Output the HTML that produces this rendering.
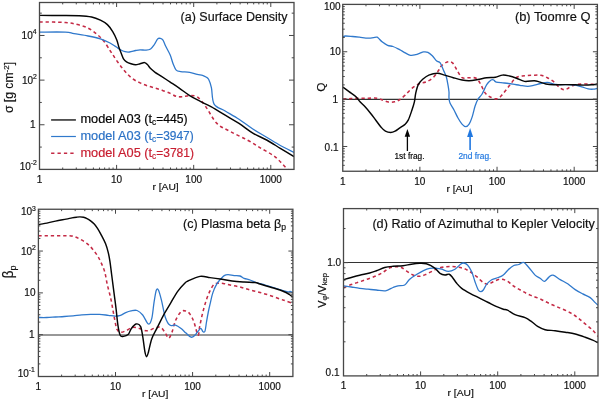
<!DOCTYPE html>
<html><head><meta charset="utf-8"><style>
html,body{margin:0;padding:0;background:#fff;}
svg{display:block;will-change:transform;}
text{font-family:"Liberation Sans", sans-serif;stroke-width:0.18px;}
</style></head><body>
<svg width="600" height="399" viewBox="0 0 600 399" fill="#111">
<rect width="600" height="399" fill="#fff"/>
<defs>
<clipPath id="cla"><rect x="39.5" y="2.5" width="254.50" height="166.90"/></clipPath>
<clipPath id="clb"><rect x="342.75" y="4.4" width="254.65" height="166.85"/></clipPath>
<clipPath id="clc"><rect x="38.4" y="209.25" width="254.50" height="167.25"/></clipPath>
<clipPath id="cld"><rect x="343.5" y="208.6" width="254.50" height="167.30"/></clipPath>
</defs>
<line x1="342.75" y1="99.4" x2="597.4" y2="99.4" stroke="#333" stroke-width="1.1"/>
<line x1="38.4" y1="335.0" x2="292.9" y2="335.0" stroke="#333" stroke-width="1.1"/>
<line x1="343.5" y1="262.5" x2="598" y2="262.5" stroke="#333" stroke-width="1.1"/>
<path d="M39.50,21.90 C43.80,22.00 58.95,22.05 65.30,22.50 C71.65,22.95 73.80,23.67 77.60,24.60 C81.40,25.53 84.88,26.50 88.10,28.10 C91.32,29.70 94.27,32.02 96.90,34.20 C99.53,36.38 101.72,38.48 103.90,41.20 C106.08,43.92 108.48,48.20 110.00,50.50 C111.52,52.80 111.75,53.12 113.00,55.00 C114.25,56.88 116.00,59.67 117.50,61.80 C119.00,63.93 120.50,65.92 122.00,67.80 C123.50,69.68 124.73,71.27 126.50,73.10 C128.27,74.93 130.33,77.17 132.60,78.80 C134.87,80.43 137.60,81.72 140.10,82.90 C142.60,84.08 145.10,85.03 147.60,85.90 C150.10,86.77 152.60,87.35 155.10,88.10 C157.60,88.85 160.08,89.52 162.60,90.40 C165.12,91.28 167.93,92.40 170.20,93.40 C172.47,94.40 174.20,95.83 176.20,96.40 C178.20,96.97 179.95,96.93 182.20,96.80 C184.45,96.67 187.13,95.53 189.70,95.60 C192.27,95.67 194.90,95.32 197.60,97.20 C200.30,99.08 202.68,102.53 205.90,106.90 C209.12,111.27 212.77,119.27 216.90,123.40 C221.03,127.53 225.65,128.93 230.70,131.70 C235.75,134.47 242.15,137.23 247.20,140.00 C252.25,142.77 256.40,145.53 261.00,148.30 C265.60,151.07 270.65,153.38 274.80,156.60 C278.95,159.82 283.37,165.20 285.90,167.60 C288.43,170.00 289.32,170.43 290.00,171.00" fill="none" stroke="#c42a45" stroke-width="1.55" stroke-dasharray="3.3,2.9" stroke-linejoin="round" clip-path="url(#cla)"/>
<path d="M39.50,32.10 C43.80,32.10 59.53,31.83 65.30,32.10 C71.07,32.37 70.30,33.05 74.10,33.70 C77.90,34.35 83.72,35.13 88.10,36.00 C92.48,36.87 96.75,37.73 100.40,38.90 C104.05,40.07 107.40,41.68 110.00,43.00 C112.60,44.32 114.25,45.67 116.00,46.80 C117.75,47.93 119.00,48.98 120.50,49.80 C122.00,50.62 123.50,51.33 125.00,51.70 C126.50,52.07 127.73,52.20 129.50,52.00 C131.27,51.80 133.83,50.87 135.60,50.50 C137.37,50.13 138.35,49.85 140.10,49.80 C141.85,49.75 144.35,50.33 146.10,50.20 C147.85,50.07 149.22,49.95 150.60,49.00 C151.98,48.05 153.22,46.18 154.40,44.50 C155.58,42.82 156.70,39.92 157.70,38.90 C158.70,37.88 159.52,38.18 160.40,38.40 C161.28,38.62 162.13,38.93 163.00,40.20 C163.87,41.47 164.40,43.53 165.60,46.00 C166.80,48.47 168.93,51.98 170.20,55.00 C171.47,58.02 172.20,61.58 173.20,64.10 C174.20,66.62 174.95,68.85 176.20,70.10 C177.45,71.35 178.45,71.23 180.70,71.60 C182.95,71.97 186.95,71.83 189.70,72.30 C192.45,72.77 195.07,73.90 197.20,74.40 C199.33,74.90 201.03,74.87 202.50,75.30 C203.97,75.73 204.98,76.33 206.00,77.00 C207.02,77.67 207.70,77.53 208.60,79.30 C209.50,81.07 210.48,83.47 211.40,87.60 C212.32,91.73 211.80,100.20 214.10,104.10 C216.40,108.00 221.05,108.47 225.20,111.00 C229.35,113.53 234.40,116.30 239.00,119.30 C243.60,122.30 248.20,126.02 252.80,129.00 C257.40,131.98 262.02,134.45 266.60,137.20 C271.18,139.95 275.73,142.97 280.30,145.50 C284.87,148.03 291.72,151.25 294.00,152.40" fill="none" stroke="#3079cc" stroke-width="1.3" stroke-linejoin="round" clip-path="url(#cla)"/>
<path d="M39.50,15.40 C42.92,15.42 53.35,15.45 60.00,15.50 C66.65,15.55 74.13,15.45 79.40,15.70 C84.67,15.95 88.10,16.25 91.60,17.00 C95.10,17.75 97.77,18.93 100.40,20.20 C103.03,21.47 105.35,22.70 107.40,24.60 C109.45,26.50 111.13,29.03 112.70,31.60 C114.27,34.17 115.75,37.35 116.80,40.00 C117.85,42.65 118.25,45.25 119.00,47.50 C119.75,49.75 120.55,51.62 121.30,53.50 C122.05,55.38 122.63,57.42 123.50,58.80 C124.37,60.18 125.25,60.97 126.50,61.80 C127.75,62.63 129.48,63.30 131.00,63.80 C132.52,64.30 134.08,64.80 135.60,64.80 C137.12,64.80 138.60,64.17 140.10,63.80 C141.60,63.43 143.35,62.43 144.60,62.60 C145.85,62.77 146.60,63.80 147.60,64.80 C148.60,65.80 149.35,67.35 150.60,68.60 C151.85,69.85 153.35,71.05 155.10,72.30 C156.85,73.55 158.58,74.47 161.10,76.10 C163.62,77.73 167.18,80.10 170.20,82.10 C173.22,84.10 175.95,85.85 179.20,88.10 C182.45,90.35 186.18,93.38 189.70,95.60 C193.22,97.82 196.68,99.52 200.30,101.40 C203.92,103.28 207.25,104.60 211.40,106.90 C215.55,109.20 220.60,112.45 225.20,115.20 C229.80,117.95 234.40,120.42 239.00,123.40 C243.60,126.38 248.20,130.33 252.80,133.10 C257.40,135.87 262.02,137.47 266.60,140.00 C271.18,142.53 275.73,145.53 280.30,148.30 C284.87,151.07 291.72,155.22 294.00,156.60" fill="none" stroke="#050505" stroke-width="1.45" stroke-linejoin="round" clip-path="url(#cla)"/>
<path d="M342.90,99.00 C344.22,98.93 348.03,98.73 350.80,98.60 C353.57,98.47 356.58,98.27 359.50,98.20 C362.42,98.13 365.37,98.20 368.30,98.20 C371.23,98.20 374.75,97.90 377.10,98.20 C379.45,98.50 380.50,99.35 382.40,100.00 C384.30,100.65 386.47,101.80 388.50,102.10 C390.53,102.40 392.70,102.23 394.60,101.80 C396.50,101.37 398.13,100.62 399.90,99.50 C401.67,98.38 403.15,97.00 405.20,95.10 C407.25,93.20 409.87,90.00 412.20,88.10 C414.53,86.20 416.87,84.73 419.20,83.70 C421.53,82.67 423.87,82.93 426.20,81.90 C428.53,80.87 431.15,79.40 433.20,77.50 C435.25,75.60 437.20,72.37 438.50,70.50 C439.80,68.63 439.55,67.73 441.00,66.30 C442.45,64.87 445.28,62.48 447.20,61.90 C449.12,61.32 450.90,61.48 452.50,62.80 C454.10,64.12 455.20,67.32 456.80,69.80 C458.40,72.28 460.05,76.38 462.10,77.70 C464.15,79.02 466.77,77.62 469.10,77.70 C471.43,77.78 474.20,77.17 476.10,78.20 C478.00,79.23 479.03,81.50 480.50,83.90 C481.97,86.30 483.28,90.42 484.90,92.60 C486.52,94.78 488.15,95.97 490.20,97.00 C492.25,98.03 495.15,99.23 497.20,98.80 C499.25,98.37 500.45,96.60 502.50,94.40 C504.55,92.20 507.20,88.42 509.50,85.60 C511.80,82.78 513.80,79.13 516.30,77.50 C518.80,75.87 521.77,76.17 524.50,75.80 C527.23,75.43 529.98,75.38 532.70,75.30 C535.42,75.22 538.35,74.88 540.80,75.30 C543.25,75.72 545.22,76.70 547.40,77.80 C549.58,78.90 552.00,80.40 553.90,81.90 C555.80,83.40 557.30,85.53 558.80,86.80 C560.30,88.07 561.53,89.15 562.90,89.50 C564.27,89.85 565.50,89.50 567.00,88.90 C568.50,88.30 570.00,86.67 571.90,85.90 C573.80,85.13 575.95,84.62 578.40,84.30 C580.85,83.98 584.15,84.00 586.60,84.00 C589.05,84.00 591.30,84.30 593.10,84.30 C594.90,84.30 596.68,84.05 597.40,84.00" fill="none" stroke="#c42a45" stroke-width="1.55" stroke-dasharray="3.3,2.9" stroke-linejoin="round" clip-path="url(#clb)"/>
<path d="M342.90,36.80 C343.33,36.67 343.90,36.05 345.50,36.00 C347.10,35.95 350.17,36.30 352.50,36.50 C354.83,36.70 356.87,36.92 359.50,37.20 C362.13,37.48 365.52,38.20 368.30,38.20 C371.08,38.20 374.58,37.28 376.20,37.20 C377.82,37.12 376.97,36.88 378.00,37.70 C379.03,38.52 380.80,40.83 382.40,42.10 C384.00,43.37 385.85,44.57 387.60,45.30 C389.35,46.03 391.15,45.92 392.90,46.50 C394.65,47.08 396.35,47.92 398.10,48.80 C399.85,49.68 401.35,50.72 403.40,51.80 C405.45,52.88 408.35,54.82 410.40,55.30 C412.45,55.78 414.10,55.05 415.70,54.70 C417.30,54.35 418.70,53.67 420.00,53.20 C421.30,52.73 422.18,52.05 423.50,51.90 C424.82,51.75 426.43,51.65 427.90,52.30 C429.37,52.95 430.83,54.33 432.30,55.80 C433.77,57.27 435.38,59.93 436.70,61.10 C438.02,62.27 439.03,61.20 440.20,62.80 C441.37,64.40 442.68,68.37 443.70,70.70 C444.72,73.03 445.57,74.32 446.30,76.80 C447.03,79.28 447.65,83.07 448.10,85.60 C448.55,88.13 448.85,89.93 449.00,92.00 C449.15,94.07 448.83,96.17 449.00,98.00 C449.17,99.83 449.17,101.00 450.00,103.00 C450.83,105.00 452.67,107.50 454.00,110.00 C455.33,112.50 456.67,115.65 458.00,118.00 C459.33,120.35 460.72,122.65 462.00,124.10 C463.28,125.55 464.52,126.70 465.70,126.70 C466.88,126.70 468.03,125.70 469.10,124.10 C470.17,122.50 471.10,120.12 472.10,117.10 C473.10,114.08 474.10,109.02 475.10,106.00 C476.10,102.98 476.93,101.00 478.10,99.00 C479.27,97.00 480.67,96.38 482.10,94.00 C483.53,91.62 485.20,87.03 486.70,84.70 C488.20,82.37 489.93,80.78 491.10,80.00 C492.27,79.22 492.83,79.65 493.70,80.00 C494.57,80.35 494.55,81.60 496.30,82.10 C498.05,82.60 501.42,82.65 504.20,83.00 C506.98,83.35 510.37,83.82 513.00,84.20 C515.63,84.58 517.53,84.95 520.00,85.30 C522.47,85.65 525.42,86.33 527.80,86.30 C530.18,86.27 532.13,85.57 534.30,85.10 C536.47,84.63 538.62,83.95 540.80,83.50 C542.98,83.05 544.93,82.27 547.40,82.40 C549.87,82.53 552.60,83.93 555.60,84.30 C558.60,84.67 562.13,84.47 565.40,84.60 C568.67,84.73 572.48,84.73 575.20,85.10 C577.92,85.47 579.53,86.17 581.70,86.80 C583.87,87.43 586.30,88.50 588.20,88.90 C590.10,89.30 591.57,89.28 593.10,89.20 C594.63,89.12 596.68,88.53 597.40,88.40" fill="none" stroke="#3079cc" stroke-width="1.3" stroke-linejoin="round" clip-path="url(#clb)"/>
<path d="M342.90,87.20 C343.92,87.93 346.82,90.00 349.00,91.60 C351.18,93.20 354.17,95.10 356.00,96.80 C357.83,98.50 358.45,100.10 360.00,101.80 C361.55,103.50 363.55,105.10 365.30,107.00 C367.05,108.90 368.75,111.00 370.50,113.20 C372.25,115.40 374.03,117.87 375.80,120.20 C377.57,122.53 379.50,125.37 381.10,127.20 C382.70,129.03 383.80,130.32 385.40,131.20 C387.00,132.08 389.08,132.50 390.70,132.50 C392.32,132.50 393.63,131.93 395.10,131.20 C396.57,130.47 397.90,129.20 399.50,128.10 C401.10,127.00 403.25,125.92 404.70,124.60 C406.15,123.28 407.02,122.55 408.20,120.20 C409.38,117.85 410.77,113.57 411.80,110.50 C412.83,107.43 413.75,104.67 414.40,101.80 C415.05,98.93 415.05,96.17 415.70,93.30 C416.35,90.43 417.13,86.93 418.30,84.60 C419.47,82.27 420.95,80.88 422.70,79.30 C424.45,77.72 426.33,76.10 428.80,75.10 C431.27,74.10 434.87,73.30 437.50,73.30 C440.13,73.30 441.97,74.37 444.60,75.10 C447.23,75.83 450.38,76.88 453.30,77.70 C456.22,78.52 459.47,79.50 462.10,80.00 C464.73,80.50 466.47,80.78 469.10,80.70 C471.73,80.62 474.97,80.00 477.90,79.50 C480.83,79.00 483.78,78.08 486.70,77.70 C489.62,77.32 492.77,77.63 495.40,77.20 C498.03,76.77 500.15,75.30 502.50,75.10 C504.85,74.90 507.17,75.48 509.50,76.00 C511.83,76.52 514.00,77.30 516.50,78.20 C519.00,79.10 521.53,80.98 524.50,81.40 C527.47,81.82 531.85,80.62 534.30,80.70 C536.75,80.78 537.28,81.35 539.20,81.90 C541.12,82.45 543.35,83.52 545.80,84.00 C548.25,84.48 550.63,84.70 553.90,84.80 C557.17,84.90 561.85,84.60 565.40,84.60 C568.95,84.60 571.93,84.72 575.20,84.80 C578.47,84.88 582.28,85.10 585.00,85.10 C587.72,85.10 589.43,84.98 591.50,84.80 C593.57,84.62 596.42,84.13 597.40,84.00" fill="none" stroke="#050505" stroke-width="1.45" stroke-linejoin="round" clip-path="url(#clb)"/>
<path d="M38.40,235.70 C39.80,235.70 43.95,235.70 46.80,235.70 C49.65,235.70 52.58,235.70 55.50,235.70 C58.42,235.70 61.37,235.62 64.30,235.70 C67.23,235.78 70.47,235.62 73.10,236.20 C75.73,236.78 77.77,237.97 80.10,239.20 C82.43,240.43 85.05,241.98 87.10,243.60 C89.15,245.22 90.65,246.85 92.40,248.90 C94.15,250.95 96.13,253.57 97.60,255.90 C99.07,258.23 100.02,260.27 101.20,262.90 C102.38,265.53 103.68,268.08 104.70,271.70 C105.72,275.32 106.28,280.12 107.30,284.60 C108.32,289.08 109.78,293.93 110.80,298.60 C111.82,303.27 112.52,307.92 113.40,312.60 C114.28,317.28 115.42,323.80 116.10,326.70 C116.78,329.60 116.82,329.05 117.50,330.00 C118.18,330.95 118.82,332.27 120.20,332.40 C121.58,332.53 123.73,331.63 125.80,330.80 C127.87,329.97 130.35,327.78 132.60,327.40 C134.85,327.02 136.87,327.93 139.30,328.50 C141.73,329.07 144.57,330.90 147.20,330.80 C149.83,330.70 152.83,328.47 155.10,327.90 C157.37,327.33 159.10,326.55 160.80,327.40 C162.50,328.25 163.98,331.20 165.30,333.00 C166.62,334.80 167.57,338.38 168.70,338.20 C169.83,338.02 170.97,334.83 172.10,331.90 C173.23,328.97 174.00,323.98 175.50,320.60 C177.00,317.22 179.35,313.18 181.10,311.60 C182.85,310.02 184.52,310.68 186.00,311.10 C187.48,311.52 188.67,312.27 190.00,314.10 C191.33,315.93 192.67,318.58 194.00,322.10 C195.33,325.62 197.05,334.48 198.00,335.20 C198.95,335.92 198.93,330.07 199.70,326.40 C200.47,322.73 201.50,317.58 202.60,313.20 C203.70,308.82 205.05,303.85 206.30,300.10 C207.55,296.35 208.85,293.27 210.10,290.70 C211.35,288.13 212.55,285.95 213.80,284.70 C215.05,283.45 216.03,283.40 217.60,283.20 C219.17,283.00 221.12,283.20 223.20,283.50 C225.28,283.80 227.28,284.40 230.10,285.00 C232.92,285.60 236.78,286.27 240.10,287.10 C243.42,287.93 246.68,289.10 250.00,290.00 C253.32,290.90 256.67,291.58 260.00,292.50 C263.33,293.42 266.67,294.42 270.00,295.50 C273.33,296.58 277.33,298.08 280.00,299.00 C282.67,299.92 283.85,300.25 286.00,301.00 C288.15,301.75 291.75,303.08 292.90,303.50" fill="none" stroke="#c42a45" stroke-width="1.55" stroke-dasharray="3.3,2.9" stroke-linejoin="round" clip-path="url(#clc)"/>
<path d="M38.40,317.50 C39.80,317.50 43.95,317.58 46.80,317.50 C49.65,317.42 52.58,317.17 55.50,317.00 C58.42,316.83 61.37,316.70 64.30,316.50 C67.23,316.30 70.17,316.07 73.10,315.80 C76.03,315.53 78.98,315.13 81.90,314.90 C84.82,314.67 87.68,314.48 90.60,314.40 C93.52,314.32 96.47,314.25 99.40,314.40 C102.33,314.55 105.57,315.02 108.20,315.30 C110.83,315.58 113.15,316.10 115.20,316.10 C117.25,316.10 118.75,315.88 120.50,315.30 C122.25,314.72 123.95,313.33 125.70,312.60 C127.45,311.87 129.10,311.25 131.00,310.90 C132.90,310.55 135.15,309.82 137.10,310.50 C139.05,311.18 140.82,312.75 142.70,315.00 C144.58,317.25 146.88,323.43 148.40,324.00 C149.92,324.57 150.87,321.97 151.80,318.40 C152.73,314.83 153.25,307.30 154.00,302.60 C154.75,297.90 155.55,292.27 156.30,290.20 C157.05,288.13 157.63,288.52 158.50,290.20 C159.37,291.88 160.37,295.80 161.50,300.30 C162.63,304.80 163.92,313.07 165.30,317.20 C166.68,321.33 168.10,323.78 169.80,325.10 C171.50,326.42 173.62,324.53 175.50,325.10 C177.38,325.67 179.35,327.17 181.10,328.50 C182.85,329.83 184.35,331.65 186.00,333.10 C187.65,334.55 189.50,336.85 191.00,337.20 C192.50,337.55 193.67,336.38 195.00,335.20 C196.33,334.02 198.00,331.22 199.00,330.10 C200.00,328.98 200.33,328.23 201.00,328.50 C201.67,328.77 202.33,331.27 203.00,331.70 C203.67,332.13 204.42,332.72 205.00,331.10 C205.58,329.48 205.95,325.18 206.50,322.00 C207.05,318.82 207.70,315.03 208.30,312.00 C208.90,308.97 209.33,307.03 210.10,303.80 C210.87,300.57 211.80,295.88 212.90,292.60 C214.00,289.32 215.45,286.30 216.70,284.10 C217.95,281.90 219.15,280.82 220.40,279.40 C221.65,277.98 222.93,276.38 224.20,275.60 C225.47,274.82 226.35,274.70 228.00,274.70 C229.65,274.70 232.08,275.38 234.10,275.60 C236.12,275.82 238.43,275.53 240.10,276.00 C241.77,276.47 242.43,277.73 244.10,278.40 C245.77,279.07 248.12,279.32 250.10,280.00 C252.08,280.68 253.52,281.67 256.00,282.50 C258.48,283.33 261.83,284.08 265.00,285.00 C268.17,285.92 272.00,287.08 275.00,288.00 C278.00,288.92 280.83,289.83 283.00,290.50 C285.17,291.17 286.83,291.83 288.00,292.00 C289.17,292.17 289.18,291.42 290.00,291.50 C290.82,291.58 292.42,292.33 292.90,292.50" fill="none" stroke="#3079cc" stroke-width="1.3" stroke-linejoin="round" clip-path="url(#clc)"/>
<path d="M38.40,224.60 C39.50,224.40 42.15,223.98 45.00,223.40 C47.85,222.82 51.98,221.82 55.50,221.10 C59.02,220.38 63.35,219.63 66.10,219.10 C68.85,218.57 70.27,218.22 72.00,217.90 C73.73,217.58 75.17,217.37 76.50,217.20 C77.83,217.03 78.83,216.88 80.00,216.90 C81.17,216.92 82.33,217.02 83.50,217.30 C84.67,217.58 85.82,218.02 87.00,218.60 C88.18,219.18 89.43,219.93 90.60,220.80 C91.77,221.67 92.85,222.55 94.00,223.80 C95.15,225.05 96.30,226.47 97.50,228.30 C98.70,230.13 99.87,232.25 101.20,234.80 C102.53,237.35 104.33,240.67 105.50,243.60 C106.67,246.53 107.47,249.48 108.20,252.40 C108.93,255.32 109.32,257.33 109.90,261.10 C110.48,264.87 110.97,269.33 111.70,275.00 C112.43,280.67 113.57,289.42 114.30,295.10 C115.03,300.78 115.50,304.10 116.10,309.10 C116.70,314.10 117.22,320.73 117.90,325.10 C118.58,329.47 119.27,333.42 120.20,335.30 C121.13,337.18 122.18,336.52 123.50,336.40 C124.82,336.28 126.78,335.92 128.10,334.60 C129.42,333.28 130.08,330.27 131.40,328.50 C132.72,326.73 134.48,324.37 136.00,324.00 C137.52,323.63 139.38,324.23 140.50,326.30 C141.62,328.37 141.95,332.08 142.70,336.40 C143.45,340.72 144.35,348.82 145.00,352.20 C145.65,355.58 146.03,356.70 146.60,356.70 C147.17,356.70 147.53,355.20 148.40,352.20 C149.27,349.20 150.30,342.83 151.80,338.70 C153.30,334.57 155.33,331.53 157.40,327.40 C159.47,323.27 161.95,318.03 164.20,313.90 C166.45,309.77 168.65,306.37 170.90,302.60 C173.15,298.83 175.43,294.50 177.70,291.30 C179.97,288.10 182.78,285.12 184.50,283.40 C186.22,281.68 185.42,282.17 188.00,281.00 C190.58,279.83 196.33,276.97 200.00,276.40 C203.67,275.83 206.65,277.17 210.00,277.60 C213.35,278.03 216.42,278.43 220.10,279.00 C223.78,279.57 228.10,280.50 232.10,281.00 C236.10,281.50 240.28,281.75 244.10,282.00 C247.92,282.25 252.35,282.17 255.00,282.50 C257.65,282.83 257.50,283.25 260.00,284.00 C262.50,284.75 266.67,286.00 270.00,287.00 C273.33,288.00 277.33,289.08 280.00,290.00 C282.67,290.92 284.33,291.67 286.00,292.50 C287.67,293.33 288.85,294.25 290.00,295.00 C291.15,295.75 292.42,296.67 292.90,297.00" fill="none" stroke="#050505" stroke-width="1.45" stroke-linejoin="round" clip-path="url(#clc)"/>
<path d="M343.50,287.80 C344.80,287.27 348.60,285.60 351.30,284.60 C354.00,283.60 356.92,282.75 359.70,281.80 C362.48,280.85 365.23,279.90 368.00,278.90 C370.77,277.90 373.80,276.90 376.30,275.80 C378.80,274.70 380.77,273.63 383.00,272.30 C385.23,270.97 387.48,268.73 389.70,267.80 C391.92,266.87 394.37,266.75 396.30,266.70 C398.23,266.65 399.63,266.82 401.30,267.50 C402.97,268.18 404.35,269.55 406.30,270.80 C408.25,272.05 410.77,274.08 413.00,275.00 C415.23,275.92 417.48,276.43 419.70,276.30 C421.92,276.17 424.08,275.12 426.30,274.20 C428.52,273.28 431.05,271.78 433.00,270.80 C434.95,269.82 435.72,268.98 438.00,268.30 C440.28,267.62 443.87,266.97 446.70,266.70 C449.53,266.43 452.23,266.43 455.00,266.70 C457.77,266.97 460.80,267.47 463.30,268.30 C465.80,269.13 467.77,270.30 470.00,271.70 C472.23,273.10 474.48,274.90 476.70,276.70 C478.92,278.50 481.37,281.25 483.30,282.50 C485.23,283.75 486.63,284.33 488.30,284.20 C489.97,284.07 491.35,282.53 493.30,281.70 C495.25,280.87 497.77,279.35 500.00,279.20 C502.23,279.05 504.48,279.70 506.70,280.80 C508.92,281.90 510.80,284.13 513.30,285.80 C515.80,287.47 518.90,289.25 521.70,290.80 C524.50,292.35 527.03,293.75 530.10,295.10 C533.17,296.45 536.77,297.43 540.10,298.90 C543.43,300.37 546.75,302.37 550.10,303.90 C553.45,305.43 556.85,306.63 560.20,308.10 C563.55,309.57 567.28,311.10 570.20,312.70 C573.12,314.30 575.20,315.83 577.70,317.70 C580.20,319.57 582.70,321.82 585.20,323.90 C587.70,325.98 590.57,328.10 592.70,330.20 C594.83,332.30 597.12,335.45 598.00,336.50" fill="none" stroke="#c42a45" stroke-width="1.55" stroke-dasharray="3.3,2.9" stroke-linejoin="round" clip-path="url(#cld)"/>
<path d="M343.50,285.80 C344.80,286.00 348.60,286.58 351.30,287.00 C354.00,287.42 356.92,287.93 359.70,288.30 C362.48,288.67 365.23,288.92 368.00,289.20 C370.77,289.48 373.38,289.73 376.30,290.00 C379.22,290.27 382.72,291.22 385.50,290.80 C388.28,290.38 390.92,288.33 393.00,287.50 C395.08,286.67 396.05,286.22 398.00,285.80 C399.95,285.38 402.75,286.10 404.70,285.00 C406.65,283.90 407.77,280.92 409.70,279.20 C411.63,277.48 414.08,276.10 416.30,274.70 C418.52,273.30 420.77,271.87 423.00,270.80 C425.23,269.73 427.42,268.72 429.70,268.30 C431.98,267.88 434.70,268.15 436.70,268.30 C438.70,268.45 439.77,268.70 441.70,269.20 C443.63,269.70 446.08,271.30 448.30,271.30 C450.52,271.30 453.05,270.30 455.00,269.20 C456.95,268.10 458.62,265.73 460.00,264.70 C461.38,263.67 462.05,262.95 463.30,263.00 C464.55,263.05 466.10,263.55 467.50,265.00 C468.90,266.45 470.45,268.92 471.70,271.70 C472.95,274.48 473.90,278.65 475.00,281.70 C476.10,284.75 477.33,288.33 478.30,290.00 C479.27,291.67 479.97,291.70 480.80,291.70 C481.63,291.70 482.32,291.25 483.30,290.00 C484.28,288.75 485.30,285.92 486.70,284.20 C488.10,282.48 489.77,280.82 491.70,279.70 C493.63,278.58 496.37,278.28 498.30,277.50 C500.23,276.72 501.63,276.30 503.30,275.00 C504.97,273.70 506.55,271.28 508.30,269.70 C510.05,268.12 512.05,266.37 513.80,265.50 C515.55,264.63 517.13,265.00 518.80,264.50 C520.47,264.00 522.13,262.00 523.80,262.50 C525.47,263.00 526.92,265.40 528.80,267.50 C530.68,269.60 533.22,273.30 535.10,275.10 C536.98,276.90 538.52,277.27 540.10,278.30 C541.68,279.33 543.13,281.50 544.60,281.30 C546.07,281.10 547.48,278.13 548.90,277.10 C550.32,276.07 551.22,274.68 553.10,275.10 C554.98,275.52 557.77,278.15 560.20,279.60 C562.63,281.05 565.20,282.13 567.70,283.80 C570.20,285.47 572.70,287.92 575.20,289.60 C577.70,291.28 580.20,292.57 582.70,293.90 C585.20,295.23 588.12,296.15 590.20,297.60 C592.28,299.05 593.90,301.35 595.20,302.60 C596.50,303.85 597.53,304.68 598.00,305.10" fill="none" stroke="#3079cc" stroke-width="1.3" stroke-linejoin="round" clip-path="url(#cld)"/>
<path d="M343.50,279.70 C344.80,279.33 348.60,278.23 351.30,277.50 C354.00,276.77 356.63,276.05 359.70,275.30 C362.77,274.55 366.93,273.75 369.70,273.00 C372.47,272.25 373.80,271.72 376.30,270.80 C378.80,269.88 381.92,268.25 384.70,267.50 C387.48,266.75 389.95,266.58 393.00,266.30 C396.05,266.02 399.95,266.15 403.00,265.80 C406.05,265.45 408.52,264.62 411.30,264.20 C414.08,263.78 417.20,263.38 419.70,263.30 C422.20,263.22 424.37,263.28 426.30,263.70 C428.23,264.12 429.85,265.03 431.30,265.80 C432.75,266.57 433.55,267.05 435.00,268.30 C436.45,269.55 438.33,272.18 440.00,273.30 C441.67,274.42 443.47,274.85 445.00,275.00 C446.53,275.15 447.95,273.78 449.20,274.20 C450.45,274.62 451.25,275.98 452.50,277.50 C453.75,279.02 455.17,281.50 456.70,283.30 C458.23,285.10 459.48,286.63 461.70,288.30 C463.92,289.97 466.95,291.63 470.00,293.30 C473.05,294.97 476.95,296.77 480.00,298.30 C483.05,299.83 485.52,301.10 488.30,302.50 C491.08,303.90 494.20,305.58 496.70,306.70 C499.20,307.82 501.50,308.62 503.30,309.20 C505.10,309.78 505.55,309.28 507.50,310.20 C509.45,311.12 512.07,313.45 515.00,314.70 C517.93,315.95 522.38,316.58 525.10,317.70 C527.82,318.82 529.22,319.95 531.30,321.40 C533.38,322.85 535.30,325.02 537.60,326.40 C539.90,327.78 542.18,328.98 545.10,329.70 C548.02,330.42 551.75,330.28 555.10,330.70 C558.45,331.12 561.85,331.65 565.20,332.20 C568.55,332.75 571.87,333.17 575.20,334.00 C578.53,334.83 582.28,336.17 585.20,337.20 C588.12,338.23 590.57,339.28 592.70,340.20 C594.83,341.12 597.12,342.28 598.00,342.70" fill="none" stroke="#050505" stroke-width="1.45" stroke-linejoin="round" clip-path="url(#cld)"/>
<rect x="39.5" y="2.5" width="254.50" height="166.90" fill="none" stroke="#474747" stroke-width="1.3"/>
<path d="M62.71,169.4v-1.9M62.71,2.5v1.9M76.28,169.4v-1.9M76.28,2.5v1.9M85.92,169.4v-1.9M85.92,2.5v1.9M93.39,169.4v-1.9M93.39,2.5v1.9M99.49,169.4v-1.9M99.49,2.5v1.9M104.65,169.4v-1.9M104.65,2.5v1.9M109.13,169.4v-1.9M109.13,2.5v1.9M113.07,169.4v-1.9M113.07,2.5v1.9M116.60,169.4v-4.5M116.60,2.5v4.5M139.81,169.4v-1.9M139.81,2.5v1.9M153.38,169.4v-1.9M153.38,2.5v1.9M163.01,169.4v-1.9M163.01,2.5v1.9M170.49,169.4v-1.9M170.49,2.5v1.9M176.59,169.4v-1.9M176.59,2.5v1.9M181.75,169.4v-1.9M181.75,2.5v1.9M186.22,169.4v-1.9M186.22,2.5v1.9M190.17,169.4v-1.9M190.17,2.5v1.9M193.69,169.4v-4.5M193.69,2.5v4.5M216.90,169.4v-1.9M216.90,2.5v1.9M230.48,169.4v-1.9M230.48,2.5v1.9M240.11,169.4v-1.9M240.11,2.5v1.9M247.58,169.4v-1.9M247.58,2.5v1.9M253.69,169.4v-1.9M253.69,2.5v1.9M258.85,169.4v-1.9M258.85,2.5v1.9M263.32,169.4v-1.9M263.32,2.5v1.9M267.26,169.4v-1.9M267.26,2.5v1.9M270.79,169.4v-4.5M270.79,2.5v4.5M39.5,147.08h2.3M294.0,147.08h-2.3M39.5,124.76h5.0M294.0,124.76h-5.0M39.5,102.44h2.3M294.0,102.44h-2.3M39.5,80.11h5.0M294.0,80.11h-5.0M39.5,57.79h2.3M294.0,57.79h-2.3M39.5,35.47h5.0M294.0,35.47h-5.0M39.5,13.15h2.3M294.0,13.15h-2.3" stroke="#474747" stroke-width="1" fill="none"/>
<rect x="342.75" y="4.4" width="254.65" height="166.85" fill="none" stroke="#474747" stroke-width="1.3"/>
<path d="M365.97,171.25v-1.9M365.97,4.4v1.9M379.56,171.25v-1.9M379.56,4.4v1.9M389.19,171.25v-1.9M389.19,4.4v1.9M396.67,171.25v-1.9M396.67,4.4v1.9M402.78,171.25v-1.9M402.78,4.4v1.9M407.94,171.25v-1.9M407.94,4.4v1.9M412.42,171.25v-1.9M412.42,4.4v1.9M416.36,171.25v-1.9M416.36,4.4v1.9M419.89,171.25v-4.5M419.89,4.4v4.5M443.11,171.25v-1.9M443.11,4.4v1.9M456.70,171.25v-1.9M456.70,4.4v1.9M466.34,171.25v-1.9M466.34,4.4v1.9M473.81,171.25v-1.9M473.81,4.4v1.9M479.92,171.25v-1.9M479.92,4.4v1.9M485.09,171.25v-1.9M485.09,4.4v1.9M489.56,171.25v-1.9M489.56,4.4v1.9M493.51,171.25v-1.9M493.51,4.4v1.9M497.04,171.25v-4.5M497.04,4.4v4.5M520.26,171.25v-1.9M520.26,4.4v1.9M533.84,171.25v-1.9M533.84,4.4v1.9M543.48,171.25v-1.9M543.48,4.4v1.9M550.96,171.25v-1.9M550.96,4.4v1.9M557.06,171.25v-1.9M557.06,4.4v1.9M562.23,171.25v-1.9M562.23,4.4v1.9M566.70,171.25v-1.9M566.70,4.4v1.9M570.65,171.25v-1.9M570.65,4.4v1.9M574.18,171.25v-4.5M574.18,4.4v4.5M342.75,165.33h2.0M597.4,165.33h-2.0M342.75,160.74h2.0M597.4,160.74h-2.0M342.75,156.99h2.0M597.4,156.99h-2.0M342.75,153.82h2.0M597.4,153.82h-2.0M342.75,151.08h2.0M597.4,151.08h-2.0M342.75,148.65h2.0M597.4,148.65h-2.0M342.75,146.49h4.5M597.4,146.49h-4.5M342.75,132.23h2.0M597.4,132.23h-2.0M342.75,123.89h2.0M597.4,123.89h-2.0M342.75,117.97h2.0M597.4,117.97h-2.0M342.75,113.38h2.0M597.4,113.38h-2.0M342.75,109.63h2.0M597.4,109.63h-2.0M342.75,106.46h2.0M597.4,106.46h-2.0M342.75,103.71h2.0M597.4,103.71h-2.0M342.75,101.29h2.0M597.4,101.29h-2.0M342.75,99.12h4.5M597.4,99.12h-4.5M342.75,84.87h2.0M597.4,84.87h-2.0M342.75,76.53h2.0M597.4,76.53h-2.0M342.75,70.61h2.0M597.4,70.61h-2.0M342.75,66.02h2.0M597.4,66.02h-2.0M342.75,62.27h2.0M597.4,62.27h-2.0M342.75,59.10h2.0M597.4,59.10h-2.0M342.75,56.35h2.0M597.4,56.35h-2.0M342.75,53.93h2.0M597.4,53.93h-2.0M342.75,51.76h4.5M597.4,51.76h-4.5M342.75,37.50h2.0M597.4,37.50h-2.0M342.75,29.16h2.0M597.4,29.16h-2.0M342.75,23.25h2.0M597.4,23.25h-2.0M342.75,18.66h2.0M597.4,18.66h-2.0M342.75,14.91h2.0M597.4,14.91h-2.0M342.75,11.74h2.0M597.4,11.74h-2.0M342.75,8.99h2.0M597.4,8.99h-2.0M342.75,6.57h2.0M597.4,6.57h-2.0" stroke="#474747" stroke-width="1" fill="none"/>
<rect x="38.4" y="209.25" width="254.50" height="167.25" fill="none" stroke="#474747" stroke-width="1.3"/>
<path d="M61.61,376.5v-1.9M61.61,209.25v1.9M75.18,376.5v-1.9M75.18,209.25v1.9M84.82,376.5v-1.9M84.82,209.25v1.9M92.29,376.5v-1.9M92.29,209.25v1.9M98.39,376.5v-1.9M98.39,209.25v1.9M103.55,376.5v-1.9M103.55,209.25v1.9M108.03,376.5v-1.9M108.03,209.25v1.9M111.97,376.5v-1.9M111.97,209.25v1.9M115.50,376.5v-4.5M115.50,209.25v4.5M138.71,376.5v-1.9M138.71,209.25v1.9M152.28,376.5v-1.9M152.28,209.25v1.9M161.91,376.5v-1.9M161.91,209.25v1.9M169.39,376.5v-1.9M169.39,209.25v1.9M175.49,376.5v-1.9M175.49,209.25v1.9M180.65,376.5v-1.9M180.65,209.25v1.9M185.12,376.5v-1.9M185.12,209.25v1.9M189.07,376.5v-1.9M189.07,209.25v1.9M192.59,376.5v-4.5M192.59,209.25v4.5M215.80,376.5v-1.9M215.80,209.25v1.9M229.38,376.5v-1.9M229.38,209.25v1.9M239.01,376.5v-1.9M239.01,209.25v1.9M246.48,376.5v-1.9M246.48,209.25v1.9M252.59,376.5v-1.9M252.59,209.25v1.9M257.75,376.5v-1.9M257.75,209.25v1.9M262.22,376.5v-1.9M262.22,209.25v1.9M266.16,376.5v-1.9M266.16,209.25v1.9M269.69,376.5v-4.5M269.69,209.25v4.5M38.4,363.91h2.0M292.9,363.91h-2.0M38.4,356.55h2.0M292.9,356.55h-2.0M38.4,351.33h2.0M292.9,351.33h-2.0M38.4,347.27h2.0M292.9,347.27h-2.0M38.4,343.96h2.0M292.9,343.96h-2.0M38.4,341.16h2.0M292.9,341.16h-2.0M38.4,338.74h2.0M292.9,338.74h-2.0M38.4,336.60h2.0M292.9,336.60h-2.0M38.4,334.69h4.5M292.9,334.69h-4.5M38.4,322.10h2.0M292.9,322.10h-2.0M38.4,314.74h2.0M292.9,314.74h-2.0M38.4,309.51h2.0M292.9,309.51h-2.0M38.4,305.46h2.0M292.9,305.46h-2.0M38.4,302.15h2.0M292.9,302.15h-2.0M38.4,299.35h2.0M292.9,299.35h-2.0M38.4,296.93h2.0M292.9,296.93h-2.0M38.4,294.79h2.0M292.9,294.79h-2.0M38.4,292.88h4.5M292.9,292.88h-4.5M38.4,280.29h2.0M292.9,280.29h-2.0M38.4,272.93h2.0M292.9,272.93h-2.0M38.4,267.70h2.0M292.9,267.70h-2.0M38.4,263.65h2.0M292.9,263.65h-2.0M38.4,260.34h2.0M292.9,260.34h-2.0M38.4,257.54h2.0M292.9,257.54h-2.0M38.4,255.11h2.0M292.9,255.11h-2.0M38.4,252.98h2.0M292.9,252.98h-2.0M38.4,251.06h4.5M292.9,251.06h-4.5M38.4,238.48h2.0M292.9,238.48h-2.0M38.4,231.11h2.0M292.9,231.11h-2.0M38.4,225.89h2.0M292.9,225.89h-2.0M38.4,221.84h2.0M292.9,221.84h-2.0M38.4,218.53h2.0M292.9,218.53h-2.0M38.4,215.73h2.0M292.9,215.73h-2.0M38.4,213.30h2.0M292.9,213.30h-2.0M38.4,211.16h2.0M292.9,211.16h-2.0" stroke="#474747" stroke-width="1" fill="none"/>
<rect x="343.5" y="208.6" width="254.50" height="167.30" fill="none" stroke="#474747" stroke-width="1.3"/>
<path d="M366.71,375.9v-1.9M366.71,208.6v1.9M380.28,375.9v-1.9M380.28,208.6v1.9M389.92,375.9v-1.9M389.92,208.6v1.9M397.39,375.9v-1.9M397.39,208.6v1.9M403.49,375.9v-1.9M403.49,208.6v1.9M408.65,375.9v-1.9M408.65,208.6v1.9M413.13,375.9v-1.9M413.13,208.6v1.9M417.07,375.9v-1.9M417.07,208.6v1.9M420.60,375.9v-4.5M420.60,208.6v4.5M443.81,375.9v-1.9M443.81,208.6v1.9M457.38,375.9v-1.9M457.38,208.6v1.9M467.01,375.9v-1.9M467.01,208.6v1.9M474.49,375.9v-1.9M474.49,208.6v1.9M480.59,375.9v-1.9M480.59,208.6v1.9M485.75,375.9v-1.9M485.75,208.6v1.9M490.22,375.9v-1.9M490.22,208.6v1.9M494.17,375.9v-1.9M494.17,208.6v1.9M497.69,375.9v-4.5M497.69,208.6v4.5M520.90,375.9v-1.9M520.90,208.6v1.9M534.48,375.9v-1.9M534.48,208.6v1.9M544.11,375.9v-1.9M544.11,208.6v1.9M551.58,375.9v-1.9M551.58,208.6v1.9M557.69,375.9v-1.9M557.69,208.6v1.9M562.85,375.9v-1.9M562.85,208.6v1.9M567.32,375.9v-1.9M567.32,208.6v1.9M571.26,375.9v-1.9M571.26,208.6v1.9M574.79,375.9v-4.5M574.79,208.6v4.5M343.5,341.81h2.0M598.0,341.81h-2.0M343.5,321.86h2.0M598.0,321.86h-2.0M343.5,307.71h2.0M598.0,307.71h-2.0M343.5,296.73h2.0M598.0,296.73h-2.0M343.5,287.77h2.0M598.0,287.77h-2.0M343.5,280.18h2.0M598.0,280.18h-2.0M343.5,273.62h2.0M598.0,273.62h-2.0M343.5,267.82h2.0M598.0,267.82h-2.0M343.5,262.64h4.5M598.0,262.64h-4.5M343.5,228.54h2.0M598.0,228.54h-2.0" stroke="#474747" stroke-width="1" fill="none"/>
<text stroke="#111" x="39.50" y="182.8" font-size="10.0" text-anchor="middle">1</text>
<text stroke="#111" x="116.60" y="182.8" font-size="10.0" text-anchor="middle">10</text>
<text stroke="#111" x="193.69" y="182.8" font-size="10.0" text-anchor="middle">100</text>
<text stroke="#111" x="270.79" y="182.8" font-size="10.0" text-anchor="middle">1000</text>
<text stroke="#111" x="342.75" y="184.7" font-size="10.0" text-anchor="middle">1</text>
<text stroke="#111" x="419.89" y="184.7" font-size="10.0" text-anchor="middle">10</text>
<text stroke="#111" x="497.04" y="184.7" font-size="10.0" text-anchor="middle">100</text>
<text stroke="#111" x="574.18" y="184.7" font-size="10.0" text-anchor="middle">1000</text>
<text stroke="#111" x="38.40" y="389.6" font-size="10.0" text-anchor="middle">1</text>
<text stroke="#111" x="115.50" y="389.6" font-size="10.0" text-anchor="middle">10</text>
<text stroke="#111" x="192.59" y="389.6" font-size="10.0" text-anchor="middle">100</text>
<text stroke="#111" x="269.69" y="389.6" font-size="10.0" text-anchor="middle">1000</text>
<text stroke="#111" x="343.50" y="388.8" font-size="10.0" text-anchor="middle">1</text>
<text stroke="#111" x="420.60" y="388.8" font-size="10.0" text-anchor="middle">10</text>
<text stroke="#111" x="497.69" y="388.8" font-size="10.0" text-anchor="middle">100</text>
<text stroke="#111" x="574.79" y="388.8" font-size="10.0" text-anchor="middle">1000</text>
<text stroke="#111" x="36.50" y="38.75" font-size="10.0" text-anchor="end">10<tspan font-size="6.8" dy="-4.5">4</tspan></text>
<text stroke="#111" x="36.84" y="83.75" font-size="10.0" text-anchor="end">10<tspan font-size="6.8" dy="-4.5">2</tspan></text>
<text stroke="#111" x="35.49" y="128.4" font-size="10.0" text-anchor="end">1</text>
<text stroke="#111" x="36.84" y="169.75" font-size="10.0" text-anchor="end">10<tspan font-size="6.8" dy="-4.5">-2</tspan></text>
<text stroke="#111" x="340.69" y="10.25" font-size="10.0" text-anchor="end">100</text>
<text stroke="#111" x="340.89" y="55.25" font-size="10.0" text-anchor="end">10</text>
<text stroke="#111" x="338.09" y="102.6" font-size="10.0" text-anchor="end">1</text>
<text stroke="#111" x="338.49" y="150.5" font-size="10.0" text-anchor="end">0.1</text>
<text stroke="#111" x="35.80" y="215.25" font-size="10.0" text-anchor="end">10<tspan font-size="6.8" dy="-4.5">3</tspan></text>
<text stroke="#111" x="35.84" y="254.5" font-size="10.0" text-anchor="end">10<tspan font-size="6.8" dy="-4.5">2</tspan></text>
<text stroke="#111" x="35.49" y="296.3" font-size="10.0" text-anchor="end">10</text>
<text stroke="#111" x="34.49" y="338.0" font-size="10.0" text-anchor="end">1</text>
<text stroke="#111" x="34.83" y="376.75" font-size="10.0" text-anchor="end">10<tspan font-size="6.8" dy="-4.5">-1</tspan></text>
<text stroke="#111" x="341.14" y="266.0" font-size="10.0" text-anchor="end">1.0</text>
<text stroke="#111" x="339.49" y="375.75" font-size="10.0" text-anchor="end">0.1</text>
<text stroke="#111" x="152.5" y="189.6" font-size="9.5" text-anchor="start" textLength="26.2" lengthAdjust="spacingAndGlyphs" >r [AU]</text>
<text stroke="#111" x="446.4" y="191.6" font-size="9.5" text-anchor="start" textLength="26.2" lengthAdjust="spacingAndGlyphs" >r [AU]</text>
<text stroke="#111" x="142.1" y="396.6" font-size="9.5" text-anchor="start" textLength="26.2" lengthAdjust="spacingAndGlyphs" >r [AU]</text>
<text stroke="#111" x="447.6" y="396.0" font-size="9.5" text-anchor="start" textLength="26.2" lengthAdjust="spacingAndGlyphs" >r [AU]</text>
<text stroke="#111" transform="translate(13.4,87.5) rotate(-90)" font-size="12.2" text-anchor="middle">σ [g cm<tspan font-size="8" dy="-4.2">-2</tspan><tspan dy="4.2">]</tspan></text>
<text stroke="#111" transform="translate(325.3,87.1) rotate(-90)" font-size="11.8" text-anchor="middle">Q</text>
<text stroke="#111" transform="translate(12.6,272) rotate(-90)" font-size="14" text-anchor="middle">β<tspan font-size="9" dy="3.6">p</tspan></text>
<text stroke="#111" transform="translate(326.3,290.3) rotate(-90)" font-size="10.8" text-anchor="middle">V<tspan font-size="7.8" dy="1.0">φ</tspan><tspan dy="-1.0">/V</tspan><tspan font-size="7.8" dy="1.0">kep</tspan></text>
<text stroke="#111" x="180.6" y="21.2" font-size="12.3" text-anchor="start" textLength="107" lengthAdjust="spacingAndGlyphs" >(a) Surface Density</text>
<text stroke="#111" x="514.9" y="20.8" font-size="12.3" text-anchor="start" textLength="75.5" lengthAdjust="spacingAndGlyphs" >(b) Toomre Q</text>
<text stroke="#111" x="183" y="228.4" font-size="12.3" textLength="98.2" lengthAdjust="spacingAndGlyphs">(c) Plasma beta β</text>
<text stroke="#111" x="281.3" y="230.2" font-size="8.6">p</text>
<text stroke="#111" x="372.4" y="227.8" font-size="12.3" text-anchor="start" textLength="222.5" lengthAdjust="spacingAndGlyphs" >(d) Ratio of Azimuthal to Kepler Velocity</text>
<line x1="51.1" y1="119.95" x2="75.9" y2="119.95" stroke="#050505" stroke-width="1.3"/>
<line x1="51.1" y1="136.5" x2="75.9" y2="136.5" stroke="#3079cc" stroke-width="1.2"/>
<line x1="51.1" y1="153.2" x2="74" y2="153.2" stroke="#c42a45" stroke-width="1.55" stroke-dasharray="3.3,3.1"/>
<text stroke="#050505" x="80.4" y="123.0" font-size="11.9" fill="#050505"><tspan textLength="71.7" lengthAdjust="spacingAndGlyphs">model A03 (t</tspan><tspan font-size="8.2" dy="2.1">c</tspan><tspan dy="-2.1" textLength="31.4" lengthAdjust="spacingAndGlyphs">=445)</tspan></text>
<text stroke="#2c72c6" x="80.4" y="139.8" font-size="11.9" fill="#2c72c6"><tspan textLength="71.7" lengthAdjust="spacingAndGlyphs">model A03 (t</tspan><tspan font-size="8.2" dy="2.1">c</tspan><tspan dy="-2.1" textLength="37.5" lengthAdjust="spacingAndGlyphs">=3947)</tspan></text>
<text stroke="#c81e30" x="80.4" y="156.7" font-size="11.9" fill="#c81e30"><tspan textLength="71.7" lengthAdjust="spacingAndGlyphs">model A05 (t</tspan><tspan font-size="8.2" dy="2.1">c</tspan><tspan dy="-2.1" textLength="37.8" lengthAdjust="spacingAndGlyphs">=3781)</tspan></text>
<line x1="407.4" y1="151" x2="407.4" y2="135" stroke="#050505" stroke-width="1.3"/>
<path d="M407.4,128.9 L404.7,136.8 L410.1,136.8 Z" fill="#050505"/>
<text stroke="#050505" x="394.5" y="158.8" font-size="8.8" text-anchor="start" textLength="30" lengthAdjust="spacingAndGlyphs" fill="#050505" >1st frag.</text>
<line x1="470.1" y1="150" x2="470.1" y2="135" stroke="#2178e0" stroke-width="1.6"/>
<path d="M470.1,128.1 L467.1,137.1 L473.1,137.1 Z" fill="#2178e0"/>
<text stroke="#2178e0" x="458.4" y="158.7" font-size="8.8" text-anchor="start" textLength="33" lengthAdjust="spacingAndGlyphs" fill="#2178e0" >2nd frag.</text>
</svg>
</body></html>
